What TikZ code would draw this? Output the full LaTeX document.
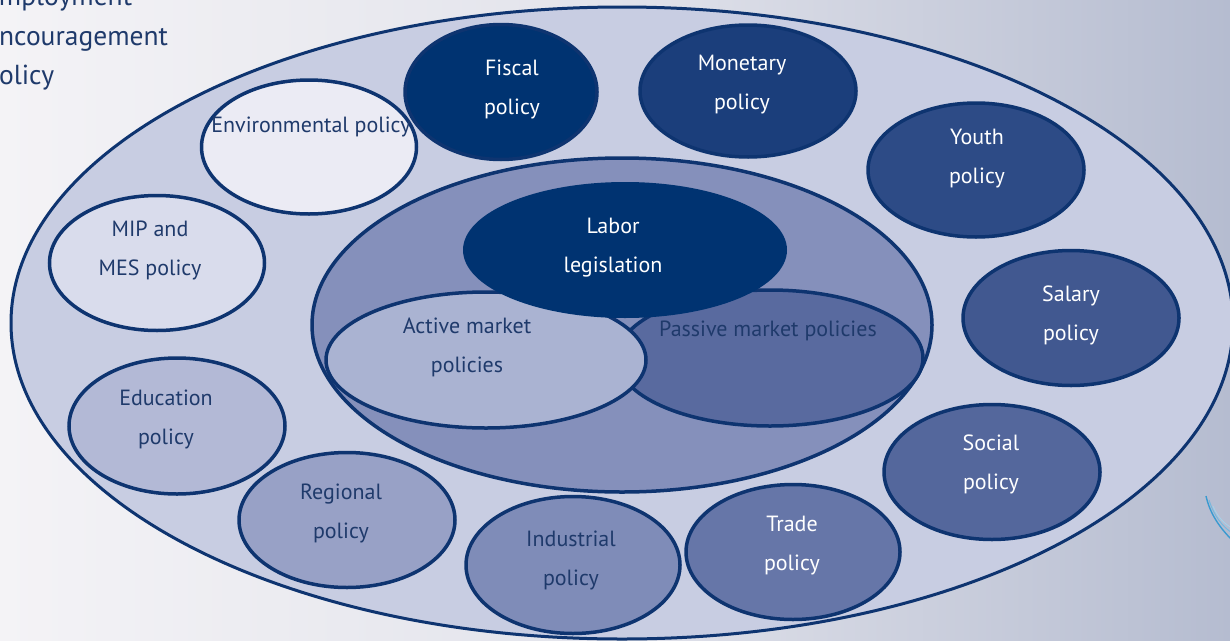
\documentclass[tikz,border=0pt]{standalone}
\usepackage{fontspec}
\setmainfont{PT Sans}
\usetikzlibrary{shapes.geometric}
\definecolor{navy}{HTML}{0E3470}
\definecolor{txtdark}{HTML}{1F3A6B}
\definecolor{cfiscal}{HTML}{003371}
\definecolor{cmonetary}{HTML}{1B3E7B}
\definecolor{cyouth}{HTML}{2D4B86}
\definecolor{csalary}{HTML}{415890}
\definecolor{csocial}{HTML}{54679C}
\definecolor{ctrade}{HTML}{6676A8}
\definecolor{cindustrial}{HTML}{7F8CB8}
\definecolor{cregional}{HTML}{98A1C6}
\definecolor{ceducation}{HTML}{B3B9D6}
\definecolor{cmip}{HTML}{D9DCEC}
\definecolor{cenv}{HTML}{EBEBF4}
\definecolor{cinner}{HTML}{8590BB}
\definecolor{cactive}{HTML}{AAB3D2}
\definecolor{cpassive}{HTML}{596A9F}
\definecolor{couter}{HTML}{C8CDE2}
\definecolor{bgleft}{HTML}{F4F3F6}
\definecolor{bgmid}{HTML}{E2E3EB}
\definecolor{bgright}{HTML}{B5BCD0}
\definecolor{swirl}{HTML}{3A9AD0}
\tikzset{
  blob/.style={ellipse, draw=navy, line width=3.5pt, inner sep=0pt},
  lbl/.style={font=\fontsize{22}{39}\selectfont, align=center, inner sep=0pt},
  lw/.style={lbl, text=white},
  ld/.style={lbl, text=txtdark},
  ttl/.style={anchor=base west, text=txtdark, font=\fontsize{27.5}{40}\selectfont, inner sep=0pt},
}
\begin{document}
\begin{tikzpicture}[x=1pt,y=-1pt]
\useasboundingbox (0,0) rectangle (1230,640);
\clip (0,0) rectangle (1230,640);
\shade[left color=bgleft, right color=bgright, middle color=bgmid] (0,0) rectangle (1230,640);
% decorative swirl
\draw[swirl, line width=1.4pt] (1206,496) .. controls (1210,514) and (1220,528) .. (1232,540);
\draw[swirl!70, line width=1pt] (1209,500) .. controls (1214,516) and (1222,526) .. (1232,533);
\draw[swirl!45, line width=0.8pt] (1213,506) .. controls (1218,518) and (1225,524) .. (1232,528);
% title text (clipped at the left edge, as in the reference)
\node[ttl] (title1) at (-16,5) {Employment};
\node[ttl] (title2) at (-15,45) {encouragement};
\node[ttl] (title3) at (-16,84) {policy};
% outer ellipse
\node[blob, fill=couter, line width=3pt, minimum width=1222pt, minimum height=632pt] (outer) at (622,323) {};
% inner big
\node[blob, fill=cinner, minimum width=620pt, minimum height=334pt] (inner) at (622,325) {};
\node[blob, fill=cpassive, minimum width=306pt, minimum height=136pt] (passive) at (770,358) {};
\node[blob, fill=cactive, minimum width=320pt, minimum height=136pt] (active) at (486,360) {};
\node[blob, fill=cfiscal, draw=none, minimum width=324pt, minimum height=136pt] (labor) at (625,250) {};
\node[lw] (tlabor) at (613,248) {Labor\\legislation};
\node[ld] (tactive) at (467,347) {Active market\\policies};
\node[ld] (tpassive) at (768,331) {Passive market policies};
% surrounding policies
\node[blob, fill=cfiscal, minimum width=192pt, minimum height=135pt] (fiscal) at (501,92) {};
\node[lw] at (512,89) {Fiscal\\policy};
\node[blob, fill=cmonetary, minimum width=216pt, minimum height=132pt] (monetary) at (748,91) {};
\node[lw] at (742,85) {Monetary\\policy};
\node[blob, fill=cyouth, minimum width=216pt, minimum height=134pt] (youth) at (976,170) {};
\node[lw] at (977,159) {Youth\\policy};
\node[blob, fill=csalary, minimum width=216pt, minimum height=135pt] (salary) at (1071,318) {};
\node[lw] at (1071,315) {Salary\\policy};
\node[blob, fill=csocial, minimum width=216pt, minimum height=135pt] (social) at (992,472) {};
\node[lw] at (991,464) {Social\\policy};
\node[blob, fill=ctrade, minimum width=214pt, minimum height=135pt] (trade) at (793,552) {};
\node[lw] at (792,546) {Trade\\policy};
\node[blob, fill=cindustrial, minimum width=214pt, minimum height=137pt] (industrial) at (573,565) {};
\node[ld] at (571,560) {Industrial\\policy};
\node[blob, fill=cregional, minimum width=216pt, minimum height=135pt] (regional) at (347,520) {};
\node[ld] at (341,513) {Regional\\policy};
\node[blob, fill=ceducation, minimum width=216pt, minimum height=136pt] (education) at (177,426) {};
\node[ld] at (166,419) {Education\\policy};
\node[blob, fill=cmip, minimum width=215pt, minimum height=135pt] (mip) at (157,263) {};
\node[ld] at (150,250) {MIP and\\MES policy};
\node[blob, fill=cenv, minimum width=215pt, minimum height=134pt] (env) at (309,147) {};
\node[ld] at (311,127) {Environmental policy};
\end{tikzpicture}
\end{document}
